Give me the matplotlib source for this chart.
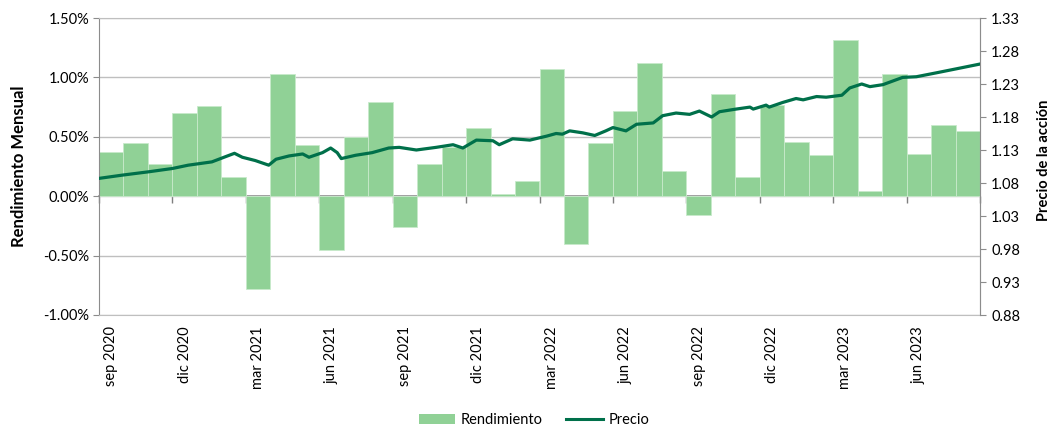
import matplotlib
matplotlib.use("Agg")
import matplotlib.pyplot as plt
from matplotlib.patches import Patch
from matplotlib.lines import Line2D
from matplotlib.ticker import FuncFormatter, MultipleLocator
import calendar

plt.rcParams['font.family'] = ['Lato', 'DejaVu Sans']

# ---- data ----
month_names = ['ene', 'feb', 'mar', 'abr', 'may', 'jun', 'jul', 'ago', 'sep', 'oct', 'nov', 'dic']
months = []
for i in range(36):
    mm = (8 + i) % 12
    yy = 2020 + (8 + i) // 12
    months.append(f"{month_names[mm]} {yy}")

returns = [0.375, 0.45, 0.27, 0.70, 0.76, 0.16, -0.785, 1.025, 0.43, -0.455, 0.495, 0.79,
           -0.257, 0.27, 0.41, 0.57, 0.02, 0.13, 1.07, -0.404, 0.45, 0.72, 1.12, 0.215,
           -0.158, 0.864, 0.164, 0.77, 0.457, 0.35, 1.313, 0.042, 1.025, 0.353, 0.60, 0.548]

price_dates = ['2020-09-01', '2020-09-30', '2020-11-02', '2020-12-01', '2020-12-21', '2021-01-20',
               '2021-02-06', '2021-02-16', '2021-02-25', '2021-03-13', '2021-03-30', '2021-04-08',
               '2021-04-24', '2021-05-11', '2021-05-19', '2021-06-05', '2021-06-15', '2021-06-23',
               '2021-06-28', '2021-07-16', '2021-08-06', '2021-08-27', '2021-09-09', '2021-09-30',
               '2021-10-25', '2021-11-15', '2021-11-27', '2021-12-14', '2022-01-04', '2022-01-12',
               '2022-01-29', '2022-02-18', '2022-03-10', '2022-03-22', '2022-03-30', '2022-04-08',
               '2022-04-24', '2022-05-09', '2022-05-23', '2022-06-01', '2022-06-17', '2022-06-30',
               '2022-07-21', '2022-08-02', '2022-08-19', '2022-09-05', '2022-09-17', '2022-10-02',
               '2022-10-12', '2022-11-02', '2022-11-19', '2022-11-23', '2022-12-09', '2022-12-13',
               '2022-12-30', '2023-01-16', '2023-01-25', '2023-02-10', '2023-02-21', '2023-03-12',
               '2023-03-22', '2023-04-06', '2023-04-16', '2023-05-02', '2023-05-27', '2023-06-13',
               '2023-07-08', '2023-08-02', '2023-08-31']
price_values = [1.087, 1.092, 1.097, 1.102, 1.107, 1.112,
                1.120, 1.125, 1.119, 1.114, 1.107, 1.116,
                1.121, 1.124, 1.119, 1.126, 1.133, 1.126,
                1.117, 1.122, 1.126, 1.133, 1.134, 1.130,
                1.134, 1.138, 1.133, 1.145, 1.144, 1.138,
                1.147, 1.145, 1.151, 1.155, 1.154, 1.159,
                1.156, 1.152, 1.159, 1.164, 1.159, 1.169,
                1.171, 1.182, 1.186, 1.184, 1.189, 1.180,
                1.188, 1.192, 1.195, 1.192, 1.198, 1.195,
                1.202, 1.208, 1.206, 1.211, 1.210, 1.213,
                1.224, 1.230, 1.226, 1.229, 1.240, 1.241,
                1.247, 1.253, 1.260]


def date_to_pos(s):
    y, m, d = (int(p) for p in s.split('-'))
    ndays = calendar.monthrange(y, m)[1]
    return (y - 2020) * 12 + (m - 9) + (d - 1) / ndays - 0.5


price_x = [date_to_pos(s) for s in price_dates]

BAR_C = '#90d196'
LINE_C = '#00704a'
GRID_C = '#bfbfbf'
AX_C = '#8c8c8c'

fig = plt.figure(figsize=(10.52, 4.28), dpi=100)
ax = fig.add_axes([99 / 1052, 1 - 315 / 428, (980 - 99) / 1052, (315 - 18) / 428])

x = list(range(len(returns)))
ax.bar(x, returns, width=1.0, color=BAR_C, edgecolor='#c8eacb', linewidth=0.6, zorder=2)
ax.set_xlim(-0.5, 35.5)
ax.set_ylim(-1.0, 1.5)
ax.yaxis.set_major_locator(MultipleLocator(0.5))
ax.yaxis.set_major_formatter(FuncFormatter(lambda v, p: f"{v:.2f}%"))
ax.grid(axis='y', color=GRID_C, linewidth=1.0, zorder=0)
ax.set_axisbelow(True)
for sp in ['left', 'right', 'top', 'bottom']:
    ax.spines[sp].set_color(GRID_C)
ax.spines['left'].set_color(AX_C)
ax.tick_params(axis='y', length=4, color=AX_C, labelsize=10.5, pad=3)

ax.set_xticks(x[::3])
ax.set_xticklabels(months[::3], rotation=90, fontsize=10.5)
ax.tick_params(axis='x', length=0, pad=8)

sec = ax.secondary_xaxis(0, transform=ax.transData)
sec.set_xticks([i - 0.5 for i in range(0, 37, 3)])
sec.set_xticklabels([])
sec.tick_params(axis='x', length=5, color='#7f7f7f', direction='out', width=1.0)
sec.spines['bottom'].set_color('#7f7f7f')
sec.spines['bottom'].set_linewidth(1.1)

ax.set_ylabel('Rendimiento Mensual', fontsize=12, fontweight='bold')
ax.yaxis.set_label_coords(-0.082, 0.5)

ax2 = ax.twinx()
ax2.plot(price_x, price_values, color=LINE_C, linewidth=2.3, zorder=3)
ax2.set_ylim(0.88, 1.33)
ax2.set_yticks([0.88 + 0.05 * i for i in range(10)])
ax2.yaxis.set_major_formatter(FuncFormatter(lambda v, p: f"{v:.2f}"))
ax2.tick_params(axis='y', length=4, color=AX_C, labelsize=10.5, pad=4)
for sp in ['left', 'top', 'bottom']:
    ax2.spines[sp].set_visible(False)
ax2.spines['right'].set_color(AX_C)
ax2.set_ylabel('Precio de la acción', fontsize=10.5, fontweight='bold')
ax2.yaxis.set_label_coords(1.065, 0.52)

handles = [Patch(facecolor=BAR_C, edgecolor='none'), Line2D([], [], color=LINE_C, linewidth=2.2)]
fig.legend(handles, ['Rendimiento', 'Precio'], loc='center', bbox_to_anchor=(534 / 1052, 1 - 420 / 428),
           ncol=2, frameon=False, fontsize=10.5, handlelength=2.5, columnspacing=1.6, handletextpad=0.4)

fig.savefig('out.png', dpi=100)
